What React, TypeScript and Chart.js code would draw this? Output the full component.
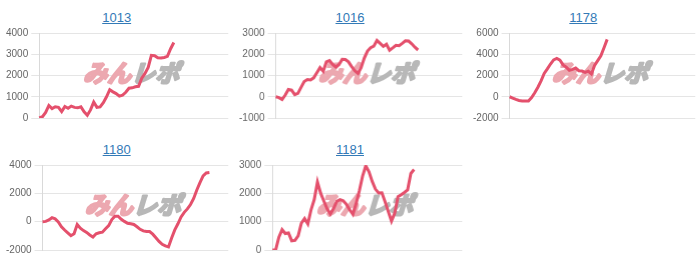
import React, { useEffect, useRef } from "react";
import { Chart, registerables } from "chart.js";

Chart.register(...registerables);

// ---- data ----
const slotCount = 60;
const xLabels: string[] = Array.from({ length: slotCount }, (_, i) => String(i + 1));

const titles = ["1013", "1016", "1178", "1180", "1181"];

const values1013 = [
  0, 60, 260, 590, 440, 530, 505, 300, 540, 460, 560, 500, 480, 530, 290, 130, 380, 750, 500, 520,
  720, 1000, 1330, 1230, 1150, 1030, 1080, 1210, 1400, 1420, 1470, 1490, 1870, 2100, 2380, 2950,
  2930, 2830, 2820, 2850, 2900, 3260, 3550,
];
const values1016 = [
  0, -40, -130, 80, 340, 310, 100, 160, 440, 720, 810, 790, 890, 1130, 1370, 1200, 1640, 1700, 1520,
  1400, 1520, 1760, 1750, 1640, 1420, 1220, 1100, 1370, 1820, 2150, 2310, 2380, 2650, 2510, 2370,
  2470, 2190, 2300, 2420, 2400, 2510, 2630, 2620, 2490, 2330, 2200,
];
const values1178 = [
  0, -120, -250, -350, -390, -400, -400, -80, 380, 900, 1500, 2200, 2620, 3080, 3470, 3600, 3450,
  3000, 2790, 2490, 2570, 2700, 2450, 2420, 2300, 2410, 2150, 2950, 3400, 3850, 4610, 5400,
];
const values1180 = [
  0, 20, 120, 280, 200, -20, -360, -590, -790, -990, -850, -200, -460, -630, -760, -940, -1080,
  -850, -780, -740, -500, -280, 150, 380, 380, 170, 20, -110, -150, -200, -360, -540, -650, -700,
  -700, -880, -1130, -1390, -1600, -1710, -1780, -1150, -580, -150, 330, 660, 900, 1210, 1640, 2240,
  2760, 3230, 3440, 3470,
];
const values1181 = [
  0, 0, 450, 720, 580, 600, 320, 340, 500, 950, 1110, 920, 1420, 1780, 2400, 2000, 1720, 1450, 1270,
  1460, 1720, 1780, 1740, 1610, 1420, 1260, 1640, 2090, 2600, 2970, 2760, 2420, 2150, 2010, 2020,
  1700, 1360, 1020, 1300, 1880, 1950, 2030, 2120, 2700, 2840,
];

const seriesList = [values1013, values1016, values1178, values1180, values1181];
const yMins = [0, -1000, -2000, -2000, 0];
const yMaxs = [4000, 3000, 6000, 4000, 3000];
const ySteps = [1000, 1000, 2000, 2000, 1000];

// ---- styles ----
const LINE_COLOR = "rgb(228, 80, 108)";
const FONT = "'Liberation Sans', Arial, Helvetica, sans-serif";
const COL_W = 700 / 3;
const ROW_H = 132;

const watermarkPlugin = {
  id: "watermark",
  beforeDatasetsDraw(chart: any) {
    const { ctx, chartArea } = chart;
    const cx = (chartArea.left + chartArea.right) / 2;
    const cy = (chartArea.top + chartArea.bottom) / 2 - 3;
    ctx.save();
    ctx.font = "bold 24px 'Noto Sans CJK JP', sans-serif";
    ctx.textBaseline = "middle";
    ctx.lineJoin = "round";
    ctx.lineWidth = 2.4;
    const a = "みん";
    const b = "レポ";
    const wa = ctx.measureText(a).width;
    const wb = ctx.measureText(b).width;
    const total = wa + wb;
    ctx.translate(cx, cy);
    ctx.transform(1, 0, -0.3, 1, 0, 0);
    ctx.fillStyle = "rgb(236, 168, 176)";
    ctx.strokeStyle = "rgb(236, 168, 176)";
    ctx.strokeText(a, -total / 2, 0);
    ctx.fillText(a, -total / 2, 0);
    ctx.fillStyle = "rgb(184, 184, 184)";
    ctx.strokeStyle = "rgb(184, 184, 184)";
    ctx.strokeText(b, -total / 2 + wa, 0);
    ctx.fillText(b, -total / 2 + wa, 0);
    ctx.restore();
  },
};

function MiniChart({ idx }: { idx: number }) {
  const ref = useRef<HTMLCanvasElement | null>(null);
  useEffect(() => {
    if (!ref.current) return;
    const chart = new Chart(ref.current, {
      type: "line",
      data: {
        labels: xLabels,
        datasets: [
          {
            data: seriesList[idx],
            borderColor: LINE_COLOR,
            backgroundColor: LINE_COLOR,
            borderWidth: 3,
            pointRadius: 0,
            tension: 0,
            fill: false,
          },
        ],
      },
      options: {
        animation: false,
        responsive: true,
        maintainAspectRatio: false,
        layout: { padding: { left: 3, right: 5, top: 4, bottom: 0 } },
        plugins: { legend: { display: false }, tooltip: { enabled: false }, title: { display: false } },
        scales: {
          x: { display: false },
          y: {
            min: yMins[idx],
            max: yMaxs[idx],
            ticks: {
              stepSize: ySteps[idx],
              color: "#666",
              font: { size: 10, family: FONT },
              callback: (v: any) => String(v),
            },
            grid: { color: "rgba(0,0,0,0.1)", tickLength: 8 },
            border: { color: "rgba(0,0,0,0.15)" },
          },
        },
      },
      plugins: [watermarkPlugin],
    });
    return () => chart.destroy();
  }, [idx]);

  const col = idx % 3;
  const row = Math.floor(idx / 3);
  const left = col * COL_W;
  const top = row * ROW_H;
  return (
    <>
      <div
        style={{
          position: "absolute",
          left,
          top: top + 10,
          width: COL_W,
          textAlign: "center",
          lineHeight: "16px",
          fontFamily: FONT,
          fontSize: 13,
        }}
      >
        <a href="#" style={{ color: "#337ab7", textDecoration: "underline" }}>
          {titles[idx]}
        </a>
      </div>
      <div style={{ position: "absolute", left, top: top + 24, width: COL_W, height: 103 }}>
        <canvas ref={ref} />
      </div>
    </>
  );
}

export default function App() {
  return (
    <div
      style={{
        position: "absolute",
        left: 0,
        top: 0,
        width: 700,
        height: 266,
        background: "#fff",
        overflow: "hidden",
      }}
    >
      {titles.map((_, i) => (
        <MiniChart key={i} idx={i} />
      ))}
    </div>
  );
}
